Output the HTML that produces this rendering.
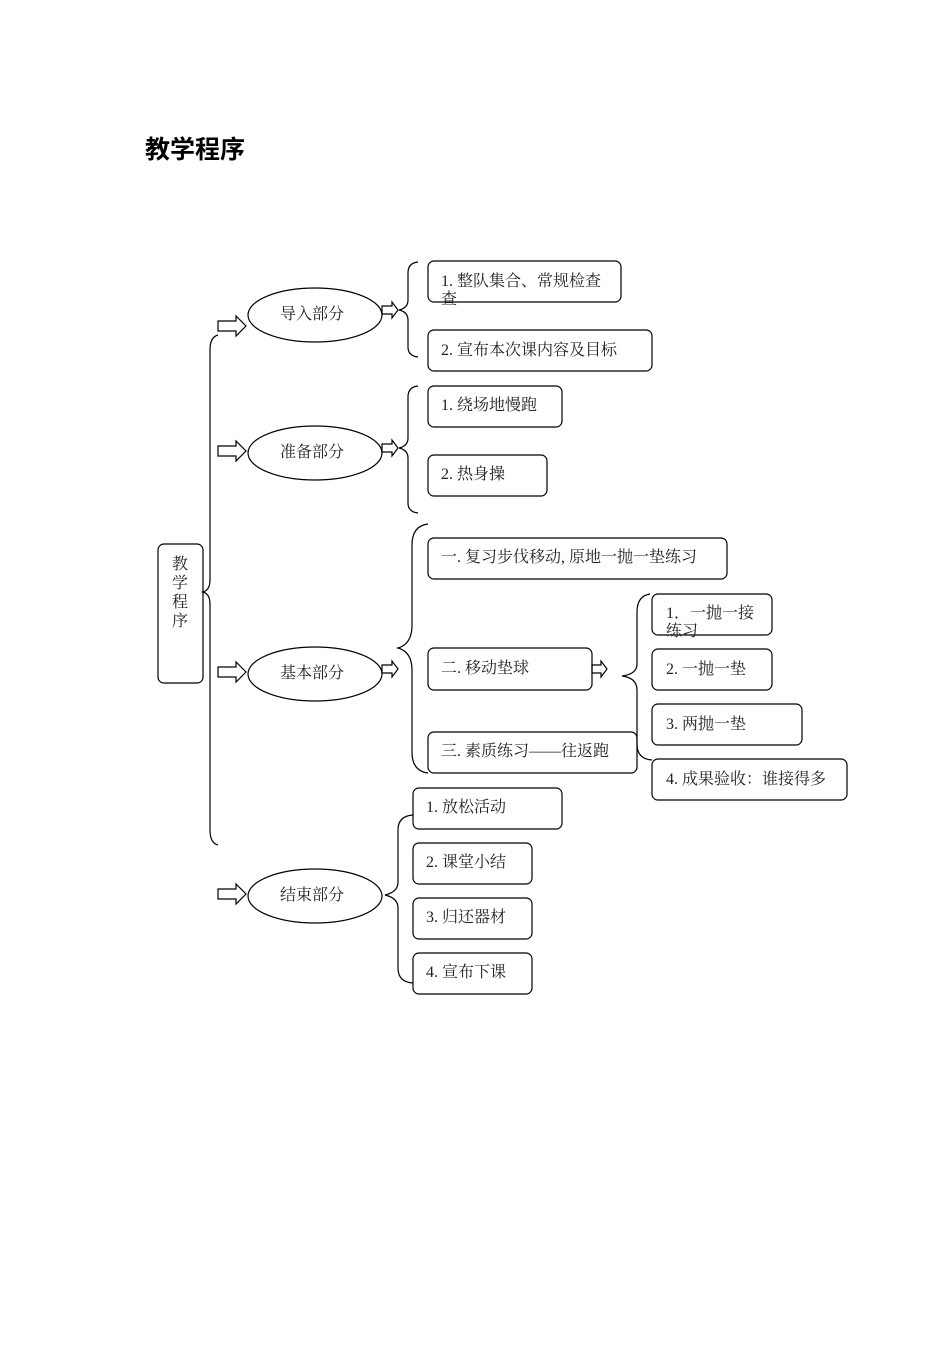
<!DOCTYPE html>
<html><head><meta charset="utf-8"><style>
body{margin:0;background:#fff;}
svg text{font-family:"Liberation Serif","Noto Serif CJK SC","Noto Sans CJK SC",serif;font-size:16px;fill:#222;}
</style></head><body>
<svg width="950" height="1344" viewBox="0 0 950 1344" xmlns="http://www.w3.org/2000/svg">
<text x="145" y="158" style="font-family:'Liberation Sans','Noto Sans CJK SC',sans-serif;font-size:25px;font-weight:bold;fill:#000">教学程序</text>
<g fill="none" stroke="#000" stroke-width="1.2">
<rect x="158" y="544" width="45" height="139" rx="6"/>
<path d="M218,335 Q210,337 210,350 L210,580 Q210,590 203,592 Q210,594 210,604 L210,830 Q210,843 218,845"/>
<path d="M218,321 L236,321 L236,316 L246,326 L236,336 L236,331 L218,331 Z"/>
<path d="M218,446 L236,446 L236,441 L246,451 L236,461 L236,456 L218,456 Z"/>
<path d="M218,667 L236,667 L236,662 L246,672 L236,682 L236,677 L218,677 Z"/>
<path d="M218,889 L236,889 L236,884 L246,894 L236,904 L236,899 L218,899 Z"/>
<ellipse cx="315" cy="315" rx="67" ry="27"/>
<ellipse cx="315" cy="453" rx="67" ry="27"/>
<ellipse cx="315" cy="674" rx="67" ry="27"/>
<ellipse cx="315" cy="896" rx="67" ry="27"/>
<path d="M382,306 L392,306 L392,302 L398,310 L392,318 L392,314 L382,314 Z"/>
<path d="M382,444 L392,444 L392,440 L398,448 L392,456 L392,452 L382,452 Z"/>
<path d="M382,665 L392,665 L392,661 L398,669 L392,677 L392,673 L382,673 Z"/>
<path d="M592,665 L601,665 L601,661 L607,669 L601,677 L601,673 L592,673 Z"/>
<path d="M418,262 Q408,263 408,273 L408,300 Q408,308 399,310 Q408,312 408,320 L408,347 Q408,356 418,357"/>
<path d="M418,386 Q408,387 408,397 L408,438 Q408,446 399,448 Q408,450 408,458 L408,503 Q408,512 418,513"/>
<path d="M428,524 Q412,526 412,545 L412,625 Q412,644 398,648 Q412,652 412,670 L412,752 Q412,771 428,773"/>
<path d="M650,594 Q637,596 637,612 L637,664 Q637,674 622,676 Q637,678 637,690 L637,744 Q637,759 652,760"/>
<path d="M413,815 Q398,816 398,830 L398,882 Q398,892 385,895 Q398,898 398,908 L398,968 Q398,982 413,983"/>
<rect x="428" y="261" width="193" height="41" rx="6"/>
<rect x="428" y="330" width="224" height="41" rx="6"/>
<rect x="428" y="386" width="134" height="41" rx="6"/>
<rect x="428" y="455" width="119" height="41" rx="6"/>
<rect x="428" y="538" width="299" height="41" rx="6"/>
<rect x="428" y="648" width="164" height="42" rx="6"/>
<rect x="428" y="732" width="209" height="41" rx="6"/>
<rect x="652" y="594" width="120" height="41" rx="6"/>
<rect x="652" y="649" width="120" height="41" rx="6"/>
<rect x="652" y="704" width="150" height="41" rx="6"/>
<rect x="652" y="759" width="195" height="41" rx="6"/>
<rect x="413" y="788" width="149" height="41" rx="6"/>
<rect x="413" y="843" width="119" height="41" rx="6"/>
<rect x="413" y="898" width="119" height="41" rx="6"/>
<rect x="413" y="953" width="119" height="41" rx="6"/>
</g>
<g>
<text x="172" y="569">教</text><text x="172" y="588">学</text><text x="172" y="607">程</text><text x="172" y="626">序</text>
<text x="280" y="319">导入部分</text>
<text x="280" y="457">准备部分</text>
<text x="280" y="678">基本部分</text>
<text x="280" y="900">结束部分</text>
<text x="441" y="286">1. 整队集合、常规检查</text>
<text x="441" y="304">查</text>
<text x="441" y="355">2. 宣布本次课内容及目标</text>
<text x="441" y="410">1. 绕场地慢跑</text>
<text x="441" y="479">2. 热身操</text>
<text x="441" y="562">一. 复习步伐移动, 原地一抛一垫练习</text>
<text x="441" y="673">二. 移动垫球</text>
<text x="441" y="756">三. 素质练习——往返跑</text>
<text x="666" y="618">1．一抛一接</text>
<text x="666" y="636">练习</text>
<text x="666" y="674">2. 一抛一垫</text>
<text x="666" y="729">3. 两抛一垫</text>
<text x="666" y="784">4. 成果验收：谁接得多</text>
<text x="426" y="812">1. 放松活动</text>
<text x="426" y="867">2. 课堂小结</text>
<text x="426" y="922">3. 归还器材</text>
<text x="426" y="977">4. 宣布下课</text>
</g>
</svg>
</body></html>
